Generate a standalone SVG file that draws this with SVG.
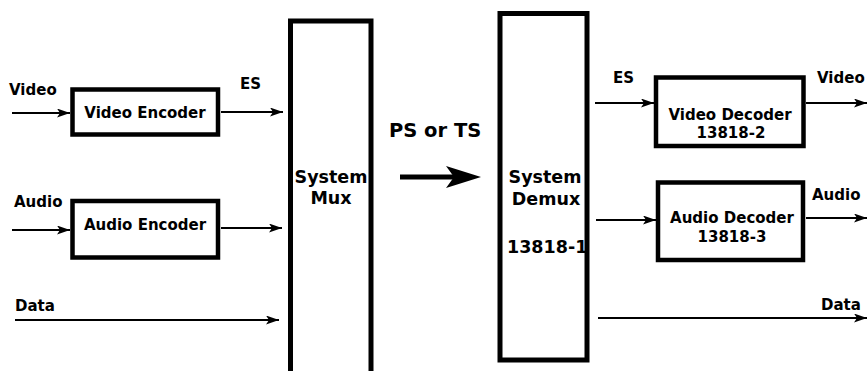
<svg xmlns="http://www.w3.org/2000/svg" width="868" height="371" viewBox="0 0 868 371">
<style>
  .box { fill: #ffffff; stroke: #000000; stroke-width: 4.5; }
  .big { fill: none; stroke: #000000; stroke-width: 5; }
  .t { font-family: "DejaVu Sans", "Liberation Sans", sans-serif; font-weight: bold; fill: #000000; }
  .s { font-size: 15px; }
  .m { font-size: 17.5px; }
  .l { font-size: 19.5px; }
  .c { text-anchor: middle; }
  .wire { stroke: #000000; stroke-width: 2; fill: none; marker-end: url(#ah); }
</style>
<defs>
  <marker id="ah" markerUnits="userSpaceOnUse" markerWidth="14" markerHeight="10" refX="13" refY="4.5" orient="auto">
    <path d="M0,0 L13,4.5 L0,9 L3,4.5 Z" fill="#000000"/>
  </marker>
</defs>
<rect width="868" height="371" fill="#ffffff"/>

<g id="video-encoder">
  <rect class="box" x="72.5" y="89.5" width="145.5" height="45"/>
  <text class="t s c" x="145" y="117.5">Video Encoder</text>
</g>
<g id="audio-encoder">
  <rect class="box" x="72.5" y="201" width="145.5" height="56.5"/>
  <text class="t s c" x="145" y="229.5">Audio Encoder</text>
</g>
<g id="system-mux">
  <rect class="big" x="290.5" y="21" width="80.5" height="370"/>
  <text class="t m c" x="331" y="183">System</text>
  <text class="t m c" x="331" y="204">Mux</text>
</g>
<g id="system-demux">
  <text class="t m c" x="545" y="183">System</text>
  <text class="t m c" x="546" y="205">Demux</text>
  <text class="t m" x="507" y="253">13818-1</text>
  <rect class="big" x="500" y="13.5" width="87" height="346.5"/>
</g>
<g id="video-decoder">
  <rect class="box" x="656" y="77.5" width="147.5" height="68.5"/>
  <text class="t s c" x="730" y="120">Video Decoder</text>
  <text class="t s c" x="731" y="138">13818-2</text>
</g>
<g id="audio-decoder">
  <rect class="box" x="658" y="182.5" width="145" height="77.5"/>
  <text class="t s c" x="732" y="223">Audio Decoder</text>
  <text class="t s c" x="732" y="242">13818-3</text>
</g>

<g id="connectors">
  <line class="wire" x1="12" y1="113" x2="70" y2="113"/>
  <line class="wire" x1="221" y1="112" x2="283" y2="112"/>
  <line class="wire" x1="12" y1="230" x2="70" y2="230"/>
  <line class="wire" x1="221" y1="228" x2="282" y2="228"/>
  <line class="wire" x1="15" y1="320" x2="279" y2="320"/>
  <line stroke="#000000" stroke-width="5" x1="400" y1="177" x2="455" y2="177"/>
  <path d="M481,177 L446,166 L454,177 L446,188 Z" fill="#000000"/>
  <line class="wire" x1="595" y1="103" x2="654" y2="103"/>
  <line class="wire" x1="806" y1="103" x2="867" y2="103"/>
  <line class="wire" x1="596" y1="220" x2="656" y2="220"/>
  <line class="wire" x1="806" y1="218" x2="867" y2="218"/>
  <line class="wire" x1="598" y1="318" x2="867" y2="318"/>
</g>

<g id="labels">
  <text class="t s" x="9" y="95">Video</text>
  <text class="t s" x="14" y="207">Audio</text>
  <text class="t s" x="15" y="311">Data</text>
  <text class="t s" x="240" y="89">ES</text>
  <text class="t l" x="389" y="137">PS or TS</text>
  <text class="t s" x="613" y="83">ES</text>
  <text class="t s" x="817" y="83">Video</text>
  <text class="t s" x="812" y="200">Audio</text>
  <text class="t s" x="821" y="310">Data</text>
</g>
</svg>
